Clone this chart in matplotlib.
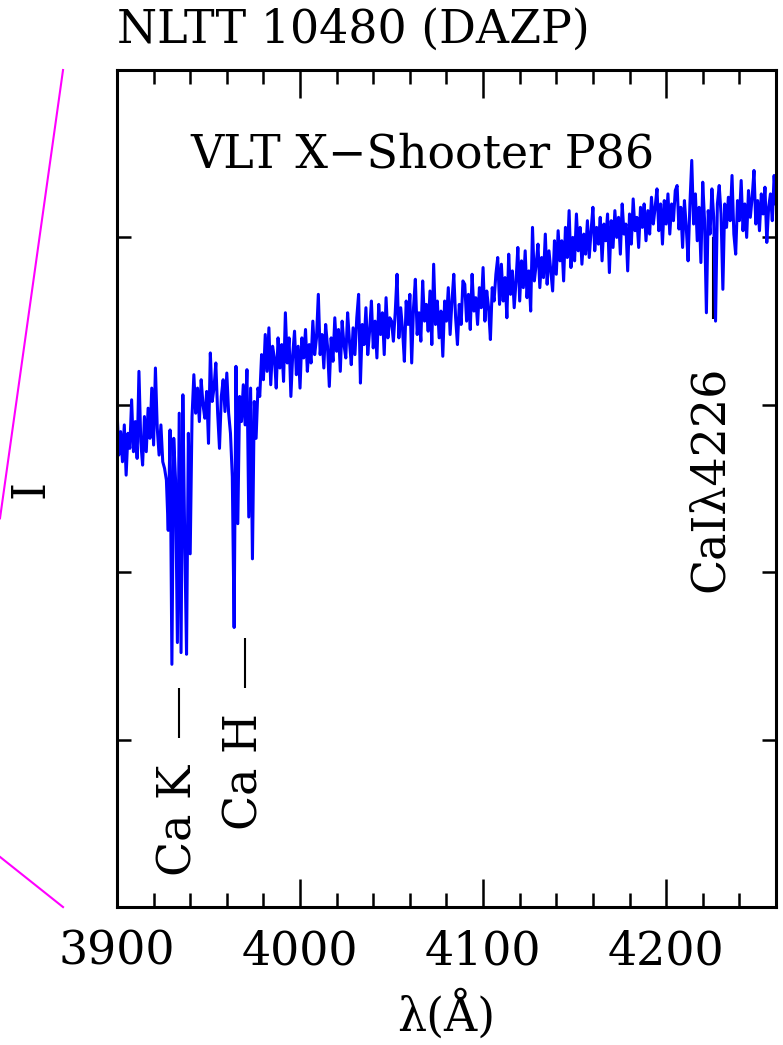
import numpy as np
import matplotlib
matplotlib.use("Agg")
import matplotlib.pyplot as plt
from matplotlib.lines import Line2D
from matplotlib.ticker import MultipleLocator, NullFormatter

plt.rcParams["font.family"] = ["DejaVu Serif"]
plt.rcParams["font.size"] = 33

# --- data ------------------------------------------------------------------
wave_start, wave_step = 3900.0, 1.0
flux = [
    2.98, 2.70, 2.84, 2.66, 2.88, 2.58, 2.83, 2.74, 3.03, 2.72,   # 3900
    2.90, 2.68, 3.20, 2.78, 2.64, 2.93, 2.72, 2.98, 2.80, 3.10,   # 3910
    2.76, 3.22, 2.86, 2.70, 2.88, 2.66, 2.62, 2.55, 2.25, 2.85,   # 3920
    1.45, 2.80, 2.55, 1.58, 2.95, 1.52, 3.06, 2.20, 1.51, 2.83,   # 3930
    2.11, 2.93, 3.18, 2.95, 3.10, 2.90, 3.15, 3.00, 2.92, 3.08,   # 3940
    2.77, 3.31, 3.02, 3.10, 3.25, 2.95, 2.74, 3.05, 3.15, 2.96,   # 3950
    3.19, 2.95, 2.83, 2.57, 1.67, 3.23, 2.29, 3.05, 2.90, 3.12,   # 3960
    2.88, 3.21, 2.33, 3.10, 2.08, 3.02, 2.80, 3.10, 3.05, 3.30,   # 3970
    3.15, 3.42, 3.20, 3.46, 3.12, 3.35, 3.28, 3.10, 3.40, 3.22,   # 3980
    3.36, 3.14, 3.55, 3.25, 3.40, 3.05, 3.30, 3.44, 3.18, 3.35,   # 3990
    3.10, 3.40, 3.28, 3.45, 3.20, 3.36, 3.25, 3.50, 3.30, 3.40,   # 4000
    3.66, 3.30, 3.42, 3.22, 3.48, 3.35, 3.11, 3.40, 3.26, 3.52,   # 4010
    3.32, 3.45, 3.20, 3.50, 3.36, 3.28, 3.55, 3.38, 3.24, 3.46,   # 4020
    3.30, 3.52, 3.66, 3.13, 3.48, 3.36, 3.58, 3.30, 3.44, 3.62,   # 4030
    3.34, 3.50, 3.28, 3.60, 3.42, 3.55, 3.30, 3.64, 3.40, 3.52,   # 4040
    3.50, 3.38, 3.55, 3.78, 3.40, 3.58, 3.45, 3.26, 3.62, 3.48,   # 4050
    3.66, 3.25, 3.58, 3.75, 3.42, 3.55, 3.38, 3.74, 3.50, 3.60,   # 4060
    3.44, 3.68, 3.36, 3.84, 3.48, 3.62, 3.40, 3.56, 3.29, 3.62,   # 4070
    3.50, 3.70, 3.42, 3.62, 3.78, 3.52, 3.36, 3.60, 3.48, 3.74,   # 4080
    3.72, 3.50, 3.66, 3.45, 3.78, 3.56, 3.64, 3.48, 3.70, 3.58,   # 4090
    3.82, 3.50, 3.68, 3.58, 3.39, 3.70, 3.62, 3.78, 3.88, 3.60,   # 4100
    3.84, 3.62, 3.76, 3.52, 3.90, 3.66, 3.80, 3.58, 3.74, 3.94,   # 4110
    3.62, 3.86, 3.70, 3.92, 3.64, 3.80, 3.56, 4.06, 3.74, 3.84,   # 4120
    3.96, 3.70, 3.88, 3.76, 4.02, 3.72, 3.92, 3.80, 3.68, 3.98,   # 4130
    3.78, 4.04, 3.86, 3.98, 3.74, 4.06, 3.88, 4.16, 3.82, 4.00,   # 4140
    3.86, 4.14, 3.92, 4.06, 3.84, 4.02, 3.90, 4.10, 3.88, 4.04,   # 4150
    4.18, 3.92, 4.06, 3.96, 4.12, 3.86, 4.08, 3.98, 4.14, 3.79,   # 4160
    4.10, 3.94, 4.16, 4.00, 4.12, 3.90, 4.20, 4.02, 4.08, 3.80,   # 4170
    4.14, 3.96, 4.23, 4.04, 4.12, 3.94, 4.18, 4.06, 4.20, 3.98,   # 4180
    4.16, 4.02, 4.24, 4.08, 4.18, 4.29, 4.04, 4.20, 3.96, 4.22,   # 4190
    4.08, 4.26, 4.02, 4.20, 4.10, 4.28, 4.31, 4.05, 4.18, 3.94,   # 4200
    4.22, 4.06, 3.86, 4.20, 4.46, 4.08, 4.26, 3.98, 4.18, 3.85,   # 4210
    4.33, 4.10, 3.55, 4.16, 4.02, 4.29, 4.12, 3.50, 4.20, 4.31,   # 4220
    4.14, 3.69, 4.20, 4.06, 4.24, 4.10, 4.37, 4.02, 3.90, 4.22,   # 4230
    4.10, 4.34, 4.04, 4.20, 4.00, 4.28, 4.12, 4.24, 4.40, 4.08,   # 4240
    4.22, 4.04, 4.26, 4.14, 4.30, 3.97, 4.18, 4.26, 4.10, 4.37, 4.20,  # 4250-4260
]
wave = wave_start + wave_step * np.arange(len(flux))

# line identifications: marker position and extent, label position
line_names = ["Ca K", "Ca H", "CaI\u03bb4226"]
line_wave = [3933.9, 3970.0, 4225.7]
mark_lo = [1.01, 1.31, 3.51]
mark_hi = [1.31, 1.61, 4.00]
label_x = [3934.0, 3970.0, 4224.0]
label_y = [0.52, 0.81, 2.56]

fig = plt.figure(figsize=(7.83, 10.45), dpi=100)
ax = fig.add_axes([0.1494, 0.132, 0.8416, 0.801])

ax.vlines(line_wave, mark_lo, mark_hi, color="k", lw=1.5, zorder=1)
ax.plot(wave, flux, color="#0000ff", lw=2.2, zorder=2)
for name, x, y in zip(line_names, label_x, label_y):
    ax.text(x, y, name, rotation=90, ha="center", va="center")

ax.text(0.464, 0.883, "VLT X\u2212Shooter P86", transform=ax.transAxes,
        ha="center", va="baseline")
ax.set_title("NLTT 10480 (DAZP)", loc="left", pad=19.5, fontsize=33)

ax.set_xlim(3900, 4260); ax.set_ylim(0, 5)
ax.xaxis.set_major_locator(MultipleLocator(100))
ax.xaxis.set_minor_locator(MultipleLocator(20))
ax.yaxis.set_major_locator(MultipleLocator(1))
ax.yaxis.set_major_formatter(NullFormatter())
ax.tick_params(axis="x", which="major", direction="in", length=20, width=1.8,
               top=True, pad=16)
ax.tick_params(axis="x", which="minor", direction="in", length=10, width=1.8, top=True)
ax.tick_params(axis="y", which="major", direction="in", length=10, width=1.8, right=True)
for s in ax.spines.values():
    s.set_linewidth(2.2)
ax.set_xlabel("\u03bb(\u00c5)", labelpad=11)
ax.set_ylabel("I")
ax.yaxis.set_label_coords(-0.097, 0.5)

# magenta connector lines on the left edge (figure coordinates)
for xs, ys in [([0.0805, 0.0], [0.933, 0.504]), ([0.0, 0.0805], [0.180, 0.132])]:
    fig.add_artist(Line2D(xs, ys, transform=fig.transFigure, color="#ff00ff", lw=1.5))

fig.savefig("out.png", dpi=100)
